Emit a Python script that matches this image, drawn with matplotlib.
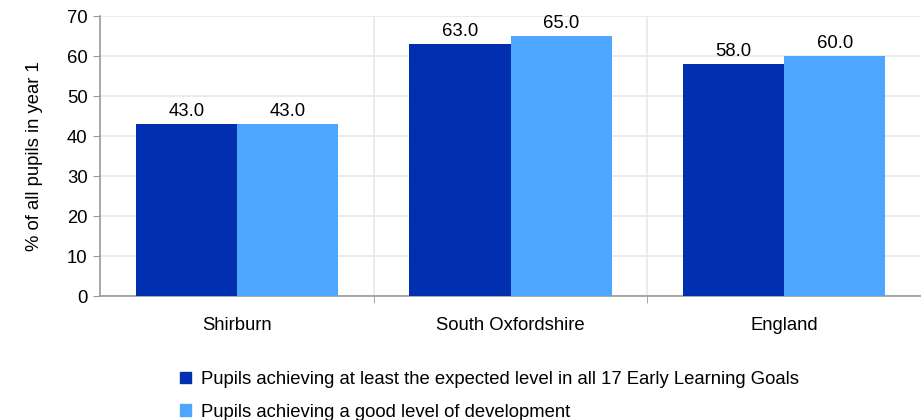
import numpy as np
import matplotlib.pyplot as plt
from matplotlib.patches import Patch

plt.rcParams['font.family'] = ['Liberation Sans', 'DejaVu Sans']

categories = ['Shirburn', 'South Oxfordshire', 'England']
expected_level = [43.0, 63.0, 58.0]
good_level = [43.0, 65.0, 60.0]
series_names = ['Pupils achieving at least the expected level in all 17 Early Learning Goals',
                'Pupils achieving a good level of development']
colors = ['#0030B0', '#4DA6FF']
fs = 13.3

fig = plt.figure(figsize=(9.21, 4.2), dpi=100)
ax = fig.add_axes([0.1086, 0.2952, 0.8914, 0.6667])

x = np.arange(len(categories))
w = 0.37
b1 = ax.bar(x - w / 2, expected_level, w, color=colors[0], zorder=3)
b2 = ax.bar(x + w / 2, good_level, w, color=colors[1], zorder=3)

for bars in (b1, b2):
    for bar in bars:
        ax.text(bar.get_x() + bar.get_width() / 2, bar.get_height() + 1.0,
                f'{bar.get_height():.1f}', ha='center', va='bottom', fontsize=fs)

ax.set_xlim(-0.5, len(categories) - 0.5)
ax.set_ylim(0, 70)
ax.set_yticks(np.arange(0, 71, 10))
ax.set_xticks(x)
ax.set_xticklabels(categories, fontsize=fs)
ax.set_xticks(np.arange(0.5, len(categories) - 0.5, 1), minor=True)
ax.tick_params(axis='x', which='major', length=0, pad=15)
ax.tick_params(axis='x', which='minor', length=5, color='#999999')
ax.tick_params(axis='y', length=5, color='#999999', labelsize=fs, pad=4)
ax.set_ylabel('% of all pupils in year 1', fontsize=fs, labelpad=17)

ax.grid(axis='y', color='#e8e8e8', linewidth=1.2, zorder=0)
ax.grid(axis='x', which='minor', color='#e8e8e8', linewidth=1.2, zorder=0)
for s in ['top', 'right']:
    ax.spines[s].set_visible(False)
for s in ['left', 'bottom']:
    ax.spines[s].set_color('#999999')
    ax.spines[s].set_linewidth(1.2)

handles = [Patch(color=c) for c in colors]
fig.legend(handles, series_names, loc='upper left', bbox_to_anchor=(0.187, 0.134),
           frameon=False, fontsize=fs, handlelength=0.6, handleheight=0.6,
           handletextpad=0.55, labelspacing=0.85, borderaxespad=0)

fig.savefig('out.png', dpi=100)
